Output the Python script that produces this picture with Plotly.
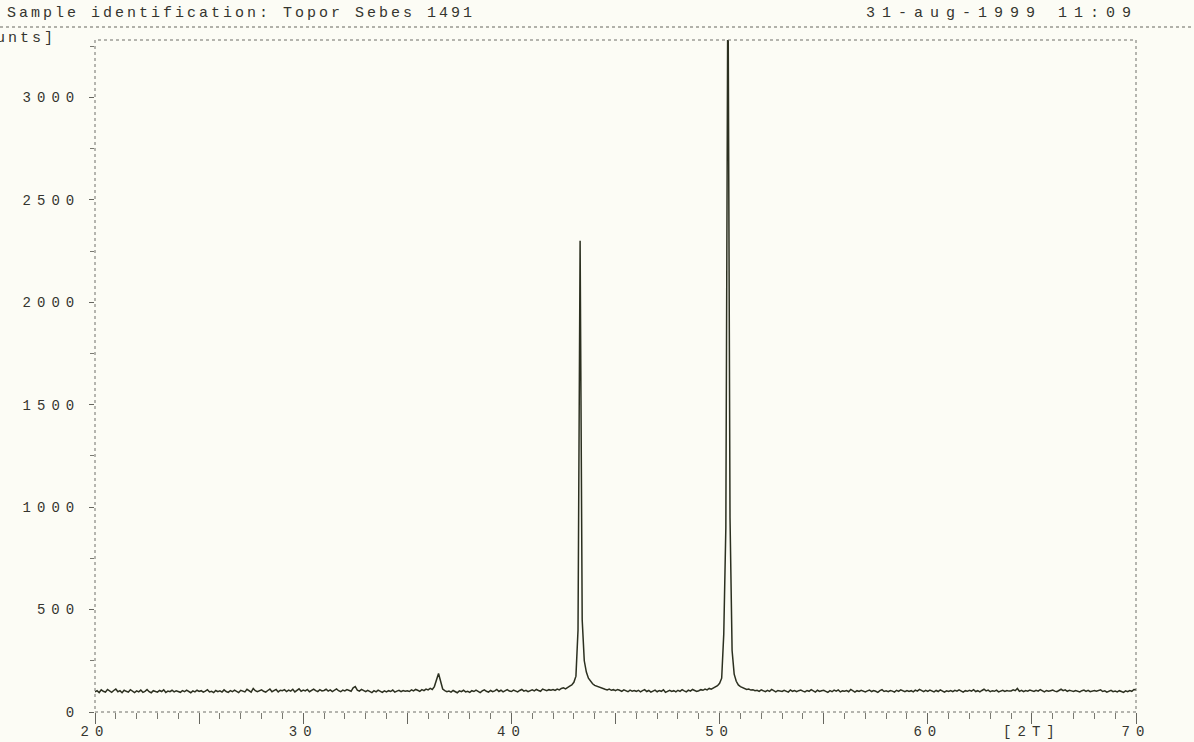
import numpy as np
import plotly.graph_objects as go

# ---- data (step 0.1 deg 2-theta) ----
scan_start = 20.0
scan_step = 0.1

counts_20s = [
    98, 104, 95, 108, 101, 97, 110, 103, 96, 105,
    112, 99, 104, 94, 106, 101, 97, 109, 100, 95,
    103, 98, 107, 96, 101, 110, 99, 94, 104, 100,
    97, 105, 100, 108, 95, 102, 99, 106, 98, 103,
    101, 96, 104, 99, 107, 100, 94, 103, 98, 106,
    100, 104, 97, 102, 109, 98, 101, 95, 105, 99,
    103, 97, 108, 100, 96, 104, 99, 107, 101, 95,
    106, 100, 98, 111, 103, 97, 115, 104, 99, 102,
    108, 101, 97, 105, 112, 99, 103, 110, 98, 106,
    104, 109, 100, 107, 102, 111, 98, 105, 113, 101,
]
counts_30s = [
    107, 103, 110, 99, 106, 112, 104, 100, 109, 103,
    105, 111, 102, 108, 100, 106, 113, 104, 99, 107,
    103, 109, 105, 101, 118, 124, 107, 102, 110, 104,
    99, 106, 101, 95, 104, 98, 107, 100, 96, 103,
    98, 104, 100, 107, 97, 102, 106, 99, 105, 101,
    104, 100, 108, 103, 110, 106, 101, 109, 104, 112,
    108, 115, 110, 124, 160, 188, 150, 112, 104, 99,
    102, 97, 105, 100, 94, 103, 99, 106, 98, 101,
    96, 104, 100, 107, 99, 95, 103, 108, 101, 97,
    105, 99, 103, 110, 100, 106, 98, 104, 109, 102,
]
counts_40s = [
    100, 107, 103, 98, 105, 110, 102, 106, 99, 104,
    108, 103, 110, 105, 101, 112, 107, 104, 109, 106,
    110, 105, 112, 108, 115, 118, 113, 121, 126, 132,
    145, 175, 400, 2300, 450, 250, 195, 165, 148, 138,
    130, 126, 120, 117, 113, 111, 108, 112, 106, 109,
    104, 110, 106, 101, 108, 103, 99, 107, 102, 105,
    101, 106, 98, 104, 109, 100, 105, 97, 103, 107,
    99, 105, 101, 108, 96, 103, 106, 100, 104, 98,
    106, 101, 109, 103, 98, 107, 102, 110, 105, 100,
    104, 109, 106, 112, 108, 115, 111, 118, 122, 128,
]
counts_50s = [
    140, 165, 380, 900, 3700, 950, 300, 185, 150, 132,
    124, 118, 114, 110, 112, 107, 109, 104, 106, 101,
    108, 103, 99, 106, 101, 110, 104, 98, 105, 102,
    100, 106, 103, 97, 108, 101, 105, 99, 104, 107,
    102, 98, 105, 101, 109, 103, 97, 106, 100, 104,
    106, 101, 96, 104, 99, 107, 102, 108, 98, 103,
    101, 105, 99, 110, 103, 97, 104, 100, 106, 102,
    98, 103, 107, 100, 105, 101, 96, 104, 109, 100,
    103, 99, 105, 102, 97, 106, 101, 108, 104, 99,
    105, 100, 104, 98, 107, 102, 110, 103, 99, 106,
]
counts_60s = [
    101, 107, 103, 98, 105, 100, 108, 104, 97, 103,
    100, 105, 99, 106, 102, 108, 103, 97, 104, 101,
    106, 102, 109, 100, 104, 98, 105, 111, 103, 107,
    99, 104, 101, 107, 98, 103, 106, 100, 105, 102,
    103, 108, 104, 115, 101, 106, 99, 105, 102, 107,
    104, 100, 106, 102, 109, 103, 98, 105, 101, 104,
    107, 102, 99, 105, 111, 104, 108, 101, 106, 103,
    100, 105, 102, 98, 104, 107, 101, 106, 99, 103,
    105, 101, 104, 108, 100, 103, 97, 102, 106, 99,
    102, 98, 104, 100, 96, 103, 99, 105, 101, 110,
    108,
]

x_tick_vals = [20, 25, 30, 35, 40, 45, 50, 55, 60, 65, 70]
x_tick_text = ["20", "", "30", "", "40", "", "50", "", "60", "[2T]", "70"]
y_tick_vals = [0, 500, 1000, 1500, 2000, 2500, 3000]
y_tick_text = ["0", "500", "1000", "1500", "2000", "2500", "3000"]

header_left = "Sample identification: Topor Sebes 1491"
header_right = "31-aug-1999 11:09"
y_title = "[Counts]"

# ---- build ----
counts = counts_20s + counts_30s + counts_40s + counts_50s + counts_60s
two_theta = np.round(scan_start + scan_step * np.arange(len(counts)), 2)

MONO = "Liberation Mono, Courier New, monospace"
INK = "#35352f"

W, H = 1194, 742
plot_left, plot_right, plot_top, plot_bottom = 95, 1136, 40, 712  # page pixels
ml, mr, mt, mb = plot_left, W - plot_right, plot_top, H - plot_bottom
pw, ph = W - ml - mr, H - mt - mb


def px_x(p):
    return (p - ml) / pw


def px_y(p):
    return 1 - (p - mt) / ph


def spaced(t, ls):
    return f'<span style="letter-spacing:{ls}px">{t}</span>' if t else ""


fig = go.Figure()
fig.add_trace(go.Scatter(
    x=two_theta, y=counts, mode="lines",
    line=dict(color="#2c3020", width=1.5),
    hoverinfo="x+y", showlegend=False,
))

fig.update_layout(
    width=W, height=H,
    margin=dict(l=ml, r=mr, t=mt, b=mb, autoexpand=False),
    paper_bgcolor="#fcfcf5", plot_bgcolor="#fcfcf5",
    font=dict(family=MONO, size=14, color=INK),
    xaxis=dict(
        range=[20, 70], showgrid=False, zeroline=False, showline=False,
        tickmode="array", tickvals=x_tick_vals,
        ticktext=[spaced(t, 6) for t in x_tick_text],
        ticks="outside", ticklen=11, tickwidth=1, tickcolor="#66665f",
        minor=dict(dtick=1, ticks="outside", ticklen=6, tickwidth=1, tickcolor="#7a7a72"),
        tickfont=dict(family=MONO, size=14, color=INK),
        ticklabelstandoff=-5,
    ),
    yaxis=dict(
        range=[0, 3280], showgrid=False, zeroline=False, showline=False,
        tickmode="array", tickvals=y_tick_vals,
        ticktext=[spaced(t, 6) for t in y_tick_text],
        ticks="outside", ticklen=5, tickwidth=1, tickcolor="#66665f",
        minor=dict(dtick=250, ticks="outside", ticklen=4, tickwidth=1, tickcolor="#7a7a72"),
        tickfont=dict(family=MONO, size=14, color=INK),
        ticklabelstandoff=6,
    ),
    shapes=[
        dict(type="rect", xref="paper", yref="paper", x0=0, x1=1, y0=0, y1=1,
             line=dict(color="#6f6f68", width=1, dash="dot")),
        dict(type="line", xref="paper", yref="paper",
             x0=px_x(0), x1=px_x(W), y0=px_y(27), y1=px_y(27),
             line=dict(color="#66665f", width=1, dash="dot")),
    ],
    annotations=[
        dict(text=spaced(header_left, 3), xref="paper", yref="paper",
             x=px_x(5), y=px_y(14), xanchor="left", yanchor="middle",
             showarrow=False, font=dict(family=MONO, size=15, color=INK)),
        dict(text=spaced(header_right, 7), xref="paper", yref="paper",
             x=px_x(1140), y=px_y(14), xanchor="right", yanchor="middle",
             showarrow=False, font=dict(family=MONO, size=15, color=INK)),
        dict(text=spaced(y_title, 3), xref="paper", yref="paper",
             x=px_x(58), y=px_y(39), xanchor="right", yanchor="middle",
             showarrow=False, font=dict(family=MONO, size=15, color=INK)),
    ],
)

fig.write_html(
    "out.html",
    config={"displayModeBar": False},
    post_script="document.body.style.margin='0';document.body.style.overflow='hidden';",
)
